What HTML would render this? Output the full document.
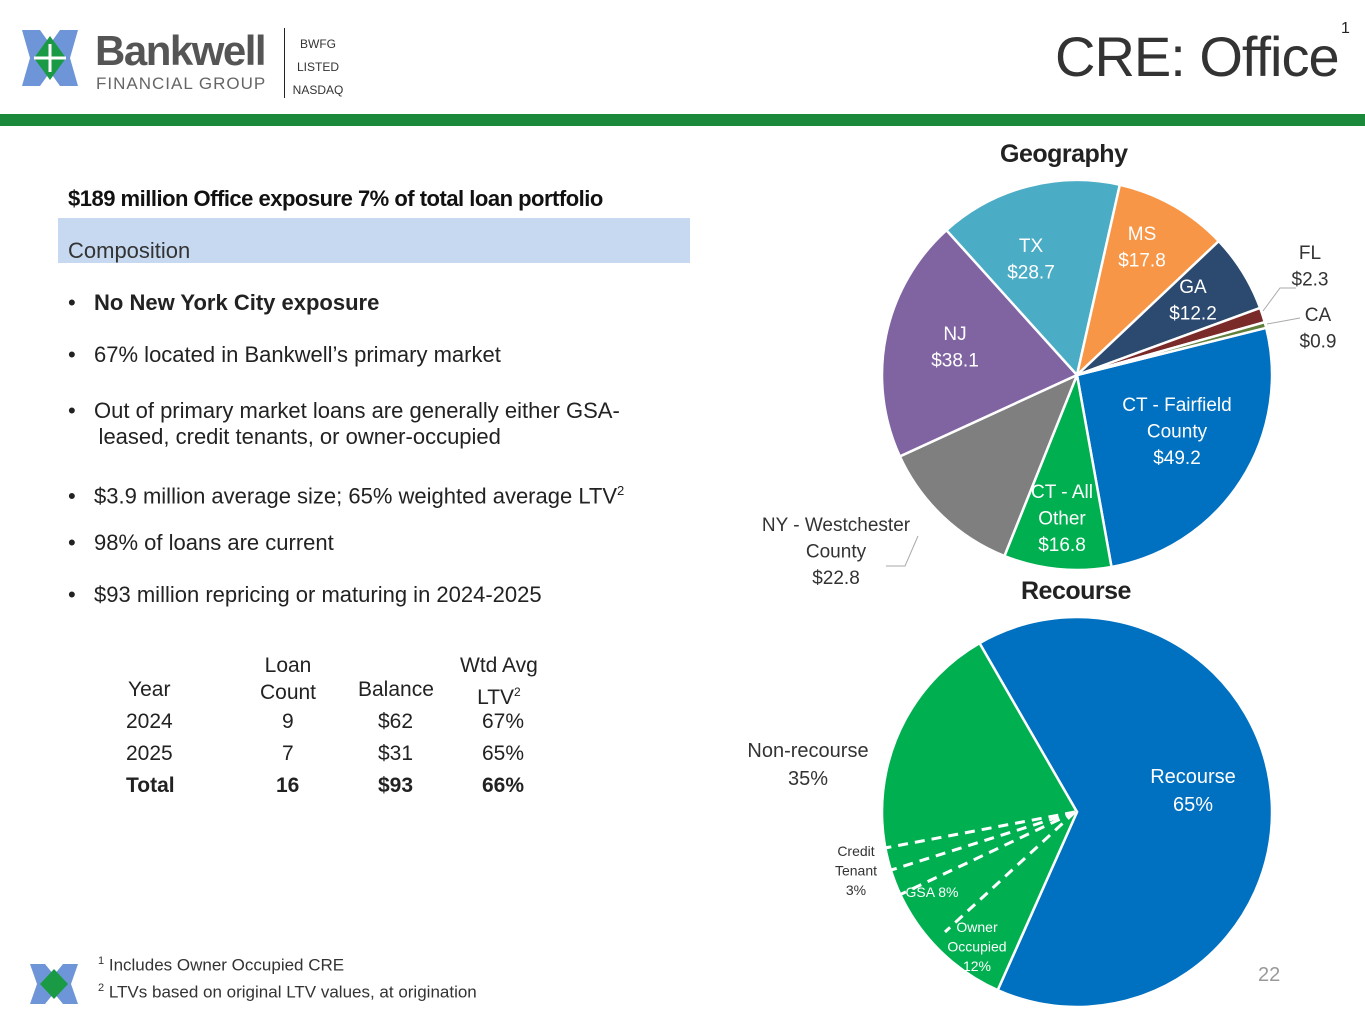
<!DOCTYPE html>
<html><head><meta charset="utf-8"><style>
body{margin:0;width:1365px;height:1024px;background:#fff;position:relative;overflow:hidden;font-family:"Liberation Sans",sans-serif;color:#222}
.a{position:absolute;white-space:nowrap}
.b{font-size:22px}
</style></head><body>
<svg class="a" style="left:20px;top:22px" width="60" height="72">
<polygon points="2,8 20,8 30,22 40,8 58,8 50,36 58,64 40,64 30,50 20,64 2,64 10,36" fill="#6d95d8"/>
<polygon points="30,14 46,36 30,58 14,36" fill="#1a9a45"/>
<path d="M14,36 L46,36 M30,22 L30,50" stroke="#fff" stroke-width="3"/>
</svg>
<div class="a" style="left:95px;top:27px;font-size:42px;font-weight:bold;color:#555;letter-spacing:-1.5px">Bankwell</div>
<div class="a" style="left:96px;top:74px;font-size:17px;color:#666;letter-spacing:1px">FINANCIAL GROUP</div>
<div class="a" style="left:284px;top:28px;width:1px;height:70px;background:#222"></div>
<div class="a" style="left:292px;top:33px;font-size:12px;line-height:23px;text-align:center;width:52px;color:#333">BWFG<br>LISTED<br>NASDAQ</div>
<div class="a" style="left:1055px;top:24px;font-size:56px;color:#333;letter-spacing:-1px">CRE: Office</div>
<div class="a" style="left:1341px;top:20px;font-size:16px">1</div>
<div class="a" style="left:0;top:114px;width:1365px;height:12px;background:#1a8a3a"></div>

<div class="a b" style="left:68px;top:186px;font-weight:bold;color:#111;letter-spacing:-0.5px">$189 million Office exposure 7% of total loan portfolio</div>
<div class="a" style="left:58px;top:218px;width:632px;height:45px;background:#c6d9f0"></div>
<div class="a b" style="left:68px;top:238px;color:#333">Composition</div>
<div class="a b" style="left:68px;top:290px;line-height:26px;color:#222">
<div style="position:absolute;top:0">•&nbsp;&nbsp;&nbsp;<b>No New York City exposure</b></div>
<div style="position:absolute;top:52px">•&nbsp;&nbsp;&nbsp;67% located in Bankwell’s primary market</div>
<div style="position:absolute;top:108px">•&nbsp;&nbsp;&nbsp;Out of primary market loans are generally either GSA-<br>&nbsp;&nbsp;&nbsp;&nbsp;&nbsp;leased, credit tenants, or owner-occupied</div>
<div style="position:absolute;top:188px">•&nbsp;&nbsp;&nbsp;$3.9 million average size; 65% weighted average LTV<sup style="font-size:13px">2</sup></div>
<div style="position:absolute;top:240px">•&nbsp;&nbsp;&nbsp;98% of loans are current</div>
<div style="position:absolute;top:292px">•&nbsp;&nbsp;&nbsp;$93 million repricing or maturing in 2024-2025</div>
</div>

<div class="a" style="left:100px;top:650px;font-size:21px;color:#222">
<div style="position:absolute;left:28px;top:28px">Year</div>
<div style="position:absolute;left:158px;top:2px;width:60px;text-align:center;line-height:27px">Loan<br>Count</div>
<div style="position:absolute;left:258px;top:28px">Balance</div>
<div style="position:absolute;left:360px;top:2px;text-align:center;line-height:27px">Wtd Avg<br>LTV<sup style="font-size:12px">2</sup></div>
<div style="position:absolute;left:26px;top:60px">2024</div><div style="position:absolute;left:182px;top:60px">9</div><div style="position:absolute;left:278px;top:60px">$62</div><div style="position:absolute;left:382px;top:60px">67%</div>
<div style="position:absolute;left:26px;top:92px">2025</div><div style="position:absolute;left:182px;top:92px">7</div><div style="position:absolute;left:278px;top:92px">$31</div><div style="position:absolute;left:382px;top:92px">65%</div>
<div style="position:absolute;left:26px;top:124px;font-weight:bold">Total</div><div style="position:absolute;left:176px;top:124px;font-weight:bold">16</div><div style="position:absolute;left:278px;top:124px;font-weight:bold">$93</div><div style="position:absolute;left:382px;top:124px;font-weight:bold">66%</div>
</div>

<svg class="a" style="left:28px;top:958px" width="52" height="52">
<polygon points="2,6 17,6 26,17 35,6 50,6 43,26 50,46 35,46 26,35 17,46 2,46 9,26" fill="#6d95d8"/>
<polygon points="26,11 40,26 26,41 12,26" fill="#1a9a45"/>
</svg>
<div class="a" style="left:98px;top:950px;font-size:17px;line-height:23px;color:#333"><sup style="font-size:11px">1</sup> Includes Owner Occupied CRE<br><sup style="font-size:11px">2</sup> LTVs based on original LTV values, at origination</div>
<div class="a" style="left:1258px;top:964px;font-size:20px;color:#999">22</div>

<div class="a" style="left:1000px;top:140px;font-size:25px;font-weight:bold;color:#222;letter-spacing:-0.5px">Geography</div>
<div class="a" style="left:1021px;top:577px;font-size:25px;font-weight:bold;color:#222;letter-spacing:-0.5px">Recourse</div>
<svg id="charts" class="a" style="left:0;top:0" width="1365" height="1024"></svg>
<script>
const geoLabels=["CT - Fairfield County","CT - All Other","NY - Westchester County","NJ","TX","MS","GA","FL","CA"];
const geoValues=[49.2,16.8,22.8,38.1,28.7,17.8,12.2,2.3,0.9];
const geoColors=["#0070c0","#00b050","#7f7f7f","#8064a2","#4bacc6","#f79646","#2c4a70","#7b2a2a","#5f7f3a"];
const recLabels=["Recourse","Non-recourse"];
const recValues=[65,35];
const recColors=["#0070c0","#00b050"];
const NS="http://www.w3.org/2000/svg";
const svg=document.getElementById('charts');
function pt(cx,cy,r,deg){const a=deg*Math.PI/180;return [cx+r*Math.cos(a),cy+r*Math.sin(a)];}
function pie(vals,colors,cx,cy,r,start,name){
  const tot=vals.reduce((a,b)=>a+b,0);let a=start;
  vals.forEach((v,i)=>{const sw=v/tot*360;const p1=pt(cx,cy,r,a),p2=pt(cx,cy,r,a+sw);
    const p=document.createElementNS(NS,'path');
    p.setAttribute('d',`M${cx},${cy}L${p1[0]},${p1[1]}A${r},${r} 0 ${sw>180?1:0} 1 ${p2[0]},${p2[1]}Z`);
    p.setAttribute('fill',colors[i]);p.setAttribute('stroke','#fff');p.setAttribute('stroke-width','2.5');
    
    
    svg.appendChild(p);a+=sw;});
}
pie(geoValues,geoColors,1077,375,195,-14,'geography');
pie(recValues,recColors,1077,812,195,-120,'recourse');
function txt(x,y,lines,col,size,anchor,name){
  const t=document.createElementNS(NS,'text');t.setAttribute('x',x);t.setAttribute('y',y);
  t.setAttribute('fill',col);t.setAttribute('font-size',size);t.setAttribute('text-anchor',anchor||'middle');
  t.setAttribute('font-family','Liberation Sans, sans-serif');
  lines.forEach((l,i)=>{const s=document.createElementNS(NS,'tspan');s.setAttribute('x',x);s.setAttribute('dy',i?size*1.4:0);s.textContent=l;t.appendChild(s);});
  
  
  svg.appendChild(t);
}
txt(1177,411,["CT - Fairfield","County","$"+geoValues[0]],"#fff",19,'middle','label-ct-fairfield');
txt(1062,498,["CT - All","Other","$"+geoValues[1]],"#fff",19,'middle','label-ct-other');
txt(836,531,["NY - Westchester","County","$"+geoValues[2]],"#333",19,'middle','label-ny');
txt(955,340,["NJ","$"+geoValues[3]],"#fff",19,'middle','label-nj');
txt(1031,252,["TX","$"+geoValues[4]],"#fff",19,'middle','label-tx');
txt(1142,240,["MS","$"+geoValues[5]],"#fff",19,'middle','label-ms');
txt(1193,293,["GA","$"+geoValues[6]],"#fff",19,'middle','label-ga');
txt(1310,259,["FL","$"+geoValues[7]],"#333",19,'middle','label-fl');
txt(1318,321,["CA","$"+geoValues[8]],"#333",19,'middle','label-ca');
function line(d,dash,col,name){const p=document.createElementNS(NS,'path');p.setAttribute('d',d);p.setAttribute('stroke',col||'#aaa');p.setAttribute('fill','none');p.setAttribute('stroke-width',dash?3:1);if(dash)p.setAttribute('stroke-dasharray','10,7');
  
  
  svg.appendChild(p);}
line("M886,566 L905,566 L918,536",0,'#aaa','leader-ny');
line("M1263,311 L1280,288 L1296,288",0,'#aaa','leader-fl');
line("M1267,324 L1300,318",0,'#aaa','leader-ca');
txt(1193,783,["Recourse",recValues[0]+"%"],"#fff",20,'middle','label-recourse');
txt(808,757,["Non-recourse",recValues[1]+"%"],"#333",20,'middle','label-nonrecourse');
line("M1075,812 L885,848",1,'#fff','divider-1');
line("M1075,812 L885,872",1,'#fff','divider-2');
line("M1075,812 L893,898",1,'#fff','divider-3');
line("M1075,812 L945,932",1,'#fff','divider-4');
txt(856,856,["Credit","Tenant","3%"],"#333",14,'middle','label-credit-tenant');
txt(932,897,["GSA 8%"],"#fff",14,'middle','label-gsa');
txt(977,932,["Owner","Occupied","12%"],"#fff",14,'middle','label-owner-occupied');
</script>
</body></html>
